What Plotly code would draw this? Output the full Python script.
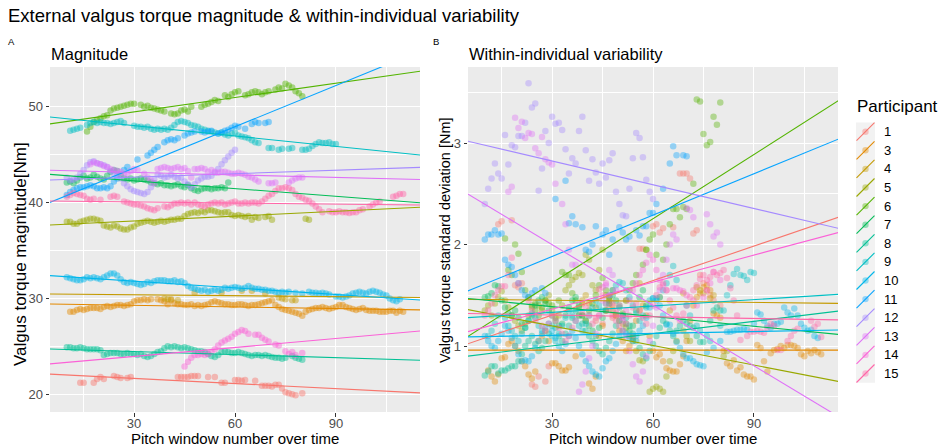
import math
import plotly.graph_objects as go

N = None

participants = ["1", "3", "4", "5", "6", "7", "8", "9", "10", "11", "12", "13", "14", "15"]

# first pitch window of each participant's series (windows step by 1)
first_window = [14, 11, 39, 10, 16, 10, 10, 11, 10, 10, 10, 17, 45, 10]

# ---- torque magnitude [Nm] per pitch window ----
mag_1 = [21.2, 21.2, N, N, 21.2, 21.6, 21.8, 21.6, N, N, 21.9, 21.8, 21.7, N, 21.7, 21.8,
         N, N, N, N, N, N, N, N, N, N, N, N, N,
         21.8, 21.8, 21.8, 21.8, 21.9, 21.9, 21.9, N, N, 21.8, N, 21.8, N, 21.2, 21.2, N, N,
         21.5, 21.5, 21.4, 21.5, N, N, 21.4, N, 20.9, 20.9, 20.9, 20.8, 21.0, 21.0, 20.6,
         20.2, 20.1, 20.0, 19.9, N, 20.1]
mag_3 = [28.6, 28.6, 28.8, 28.9, 28.8, 28.9, 29.0, 29.0, 29.0, 28.9,
         29.1, 29.2, 29.1, 29.2, 29.3, 29.3, 29.2, 29.3, 29.4, 29.7,
         29.8, 29.8, 29.9, 29.8, 29.9, N, 29.9, 29.8, 29.7, 29.4,
         29.8, 29.5, 29.4, 29.4, 29.3, 29.3, 29.4, 29.2, 29.3, 29.2,
         29.3, 29.4, 29.6, 29.7, 29.6, 29.5, 29.4, 29.4, 29.3, 29.3,
         29.4, 29.4, 29.3, 29.2, 29.3, 29.3, 29.4, 29.5, 29.6, 29.7,
         29.8, 29.3, 29.1, 28.9, 28.8, 28.7, 28.6, 28.5, 28.4, 28.2,
         28.6, 28.8, 28.9, 29.0, 29.0, 29.1, 29.0, 28.9, 29.0, 29.1,
         29.3, 29.3, 29.1, 29.0, 28.9, 28.8, 28.9, 29.0, 28.8, 28.7,
         28.7, 28.7, 28.6, 28.6, 28.6, 28.7, 28.7, 28.5, 28.7, 28.6]
mag_4 = [30.0, 29.9, 29.9, N, 29.8, N, N, N, N, 30.6, N, N, N, N, N, N, N, 30.6, N, N,
         N, N, N, 30.8, N, N, 30.8, N, N, N, 30.5, N, N, N, 30.1, 30.0, 29.9, N, 29.8, 29.8]
mag_5 = [38.0, 38.0, 37.8, 37.8, 38.0, 38.1, 38.2, 38.3, 38.3, 38.2,
         38.1, 37.6, 37.5, 37.4, 37.6, 37.5, 37.3, 37.2, 37.2, 37.4,
         37.5, 37.8, 37.9, 38.0, 38.1, 38.0, 37.9, 38.0, 38.1, 38.0,
         38.1, 38.2, 38.2, 38.3, 38.3, 38.6, 38.8, 38.9, 39.0, 38.9,
         39.1, 39.0, 39.2, 39.2, 39.1, 39.0, 38.9, 39.0, 39.0, 38.7,
         38.6, 38.7, 38.6, 38.5, 38.6, 38.2, 38.5, 38.4, N, 38.5,
         38.6, 38.2, N, N, N, N, N, N, N, N, N, 38.3, 38.2]
mag_6 = [47.4, 47.9, 48.4, 48.6, 48.8, 49.0, 49.1, 49.6, 49.8, 49.9,
         50.0, 50.1, 50.2, 50.3, 50.3, N, 50.2, 50.0, 50.1, 49.9,
         49.8, 49.7, 49.6, 49.5, N, 49.3, 49.2, 49.3, 49.6, 49.7,
         49.5, 50.0, N, N, 50.0, 50.2, 50.3, 50.5, 50.7, 50.6,
         N, 51.2, 51.0, 51.3, 51.5, 51.6, N, 51.2, 51.3, 51.5,
         51.6, 51.5, 51.3, 51.5, 51.6, N, 51.8, 52.0, 51.9, 52.4,
         52.2, 52.0, 51.6, 51.4, 51.1]
mag_7 = [42.1, 42.2, 42.0, 42.3, 42.6, 42.8, 42.5, 42.6, 42.9,
         42.7, 42.5, 42.4, 42.8, 43.2, 43.4, 43.3, 42.9, 42.5, 42.4,
         42.5, 42.3, 42.4, 42.5, 42.4, 42.3, 42.1, 42.0, 41.9, 42.0,
         41.8, 41.8, 41.7, 41.8, 41.9, 41.7, 41.6, 41.8, 41.5, 41.3,
         41.2, 41.4, 41.5, 41.5, 41.4, 41.5, 41.5, 41.6, 41.5, 42.1]
mag_8 = [24.9, 24.9, 24.8, 24.8, 24.9, 24.8, 24.7, 24.7,
         24.7, 24.7, 24.6, 24.1, 24.2, 24.3, 24.3, 24.3, 24.2, 24.2,
         24.3, 24.2, 24.2, 24.1, 24.2, 24.0, 23.9, 24.0, 24.2, 24.4,
         24.5, 24.8, 25.0, 24.9, 25.0, 24.9, 24.8, 24.9, 24.8, 24.7,
         24.6, 24.5, 24.5, 24.4, 24.2, 24.0, 23.9, 24.1, 24.4, 24.5,
         24.4, 24.3, 24.3, 24.4, 24.3, 24.2, 24.1, 24.0, 24.1, 24.1,
         24.0, 24.1, 24.0, 23.9, 23.8, 23.8, 23.7, 23.8, N, 24.0,
         23.8, 23.7, 23.6]
mag_9 = [47.5, 47.6, 47.7, 47.8, N, 48.1, 48.3, 48.4, 48.3, 48.4,
         48.3, 48.3, 48.2, 48.3, 48.4, 48.5, 48.3, N, N, 48.0,
         47.9, 47.9, 47.8, 47.9, 47.7, 47.6, 47.7, 47.6, 47.7, 47.6,
         47.8, 48.1, 48.4, 48.5, 48.4, 48.3, 48.1, 48.0, 47.9, 47.7,
         47.6, 47.5, 47.4, 47.3, 47.2, 47.3, 47.1, 47.0, 47.2, 47.3,
         47.0, 46.9, 46.8, 46.7, 46.5, 46.3, 46.2, N, N, 45.7,
         45.7, N, 45.5, 45.6, N, 45.6, 45.7, N, N, 45.5,
         45.5, 45.6, 45.9, 46.1, 46.3, 46.2, 46.2, 46.3, 46.1, 46.1]
mag_10 = [32.2, 32.1, 32.0, 31.9, 31.9, 32.0, 32.2, 32.1, 32.2, 32.1,
          32.0, 32.2, 32.4, 32.6, 32.6, 32.4, 32.0, 31.7, 31.6, 31.7,
          31.6, 31.5, 31.4, 31.5, 31.7, 31.6, 31.8, 31.9, 31.9, 31.9,
          31.8, 31.8, 31.9, 31.7, 31.8, 31.6, 31.3, 31.1, 31.0, 30.9,
          30.8, 30.9, 30.7, 30.8, 30.9, 30.8, 30.9, 31.1, 31.0, 31.1,
          31.2, 31.1, 31.0, 31.1, 31.3, 31.1, 31.0, 31.0, 30.9, 30.9,
          30.8, 30.8, 30.7, 30.6, 30.7, 30.6, 30.7, N, 30.6, N,
          30.5, N, 30.7, 30.6, 30.6, 30.5, 30.6, 30.5, 30.4, N,
          30.2, 30.2, 30.1, 30.2, 30.3, 30.5, 30.6, 30.7, 30.6, 30.5,
          30.7, 30.8, 30.7, 30.6, 30.4, 30.3, 30.0, 29.8, 29.7, 29.9]
mag_11 = [40.8, 41.1, 41.3, 41.5, 41.6, 41.6, 41.7, 41.8, 41.7,
          41.5, 41.5, 41.6, 41.5, 41.7, 42.2, 42.5, N, 43.4, 43.7,
          N, N, 44.5, N, N, 44.9, 45.2, 45.5, 45.8, N,
          46.3, 46.5, 46.6, 46.5, 46.7, N, 47.0, 47.2, 47.3, 47.4,
          N, 47.4, 47.3, 47.4, 47.5, N, 47.2, 47.3, 47.5, 47.6,
          47.8, 48.0, 47.9, N, 47.7, N, 48.2, 48.4, 48.3, N,
          48.3, 48.4]
mag_12 = [42.6, 42.3, 42.4, 42.6, 43.0, 43.4, 43.9, 44.2, 44.3,
          44.1, 44.0, 43.9, 43.7, 43.3, 43.0, 42.9, 42.5, 42.0, 41.7,
          41.4, 41.2, 41.1, 41.0, 40.9, 41.1, 41.6, 42.4, 42.9, 42.8,
          42.6, 42.7, 42.9, 42.7, 42.5, 42.6, 42.2, 41.9, 41.6, 41.9,
          42.3, 42.5, 42.7, 42.7, 42.8, 43.1, 43.5, 44.0, 44.4, 44.8,
          45.2, 45.5]
mag_13 = [44.0, 44.2, 44.1, 44.0, 43.8, 43.7, 43.5, 43.4, 43.3, 43.2,
          43.0, 43.0, 43.3, 43.5, 43.4, N, 43.0, 42.6, 42.3, 42.0,
          43.5, 43.6, 43.7, 43.6, 43.5, 43.6, 43.7, 43.5, 43.6, 43.3,
          42.6, 43.5, 43.5, 43.6, 43.5, 43.2, 43.4, 43.2, 43.1, 43.2,
          43.2, 43.1, 43.0, 43.0, 43.1, 43.0, 42.9, 42.7, 42.6, 42.4,
          42.2, N, N, 42.0, 42.0, 42.1, N, N, N, 42.1,
          42.3, 42.5, 42.6, 42.6]
mag_14 = [22.9, 23.4, 23.8, 24.1, 24.1, 24.2, 24.1, 24.2, 24.4, 24.7,
          25.1, 25.4, 25.6, 25.8, 26.0, 26.3, 26.5, 26.7, 26.6, 26.3,
          N, 26.2, 26.2, 25.9, 25.7, 25.5, N, 25.2, 25.1, N,
          24.5, 24.2, 24.4, 24.1, N, 24.3]
mag_15 = [40.6, 40.8, 41.0, 40.9, 40.8, 40.7, 40.4, 40.3, 40.4, N,
          40.3, N, N, 40.6, 40.7, 40.6, N, 40.1, 40.0, 39.9,
          39.8, 39.8, 39.7, 39.6, 39.4, 39.3, 39.2, 39.4, N, 39.6,
          39.5, 39.7, 39.9, 39.9, 40.0, 39.9, 40.0, 39.8, 40.0, 39.8,
          39.7, 39.6, 39.8, 39.9, 40.0, 39.9, 40.0, 39.8, 39.9, 40.0,
          40.1, 39.9, 39.9, 40.0, 39.9, 40.0, 40.0, 39.9, 40.1, 40.4,
          40.7, 40.9, 41.2, 41.5, 41.5, 41.6, 41.5, 41.3, 40.9, 40.6,
          40.5, 40.3, 40.2, 39.9, 39.6, 39.3, 39.0, N, 39.1, 39.0,
          39.0, 39.1, 39.0, 39.0, 38.9, 39.0, 39.0, 39.2, 39.3, N,
          39.6, 39.8, 40.0, 40.1, N, N, N, 40.6, 40.7, 40.9, 40.9]

# ---- within-individual standard deviation [Nm] per pitch window ----
sd_1 = [2.20, 2.23, N, N, 2.24, 1.60, 1.58, 1.62, N, N, 0.62, 0.60, 0.70, N, 0.65, 0.80,
        N, N, N, N, N, N, N, N, N, N, N, N, N,
        1.25, 1.30, 1.22, 1.35, 1.40, 1.28, 1.32, N, N, 1.45, N, 1.10, N, 1.96, 1.96, N, N,
        2.18, 2.20, 2.12, 2.16, N, N, 2.17, N, 2.70, 2.70, 2.70, 2.65, 2.11, 2.14, 1.70,
        1.62, 1.55, 1.50, 1.45, N, 1.40]
sd_3 = [0.76, 0.70, 0.65, 0.72, 0.88, 0.89, 1.02, 1.05, 1.00, 0.95,
        0.85, 0.80, 0.72, 0.68, 0.75, 1.05, 1.10, 1.15, 1.05, 0.83,
        0.83, 0.80, 0.76, 0.76, 0.79, N, 0.90, 1.30, 1.42, 1.25,
        0.63, 0.58, 0.70, 1.10, 1.20, 1.35, 1.45, 1.40, 1.30, 1.15,
        1.05, 0.95, 1.00, 1.08, 1.25, 1.35, 1.40, 1.30, 1.10, 0.95,
        0.89, 0.92, 0.85, 0.78, 0.76, 0.75, 0.75, 0.82, 0.90, 1.05,
        1.25, 1.40, 1.48, 1.52, 1.58, 1.60, 1.55, 1.32, 1.30, 1.28,
        0.95, 0.83, 0.80, 0.86, 0.76, 0.79, 0.72, 0.70, 0.70, 0.67,
        1.01, 0.98, 0.85, 0.75, 0.93, 0.96, 0.97, 1.00, 0.98, 1.01,
        1.01, 1.00, 0.98, 0.92, 0.90, 0.95, 0.93, 0.96, 0.94, 0.92]
sd_4 = [1.45, 1.50, 1.42, N, 1.38, N, N, N, N, 1.55, N, N, N, N, N, N, N, 1.62, N, N,
        N, N, N, 1.48, N, N, 1.35, N, N, N, 1.52, N, N, N, 1.58, 1.55, 1.52, N, 1.47, 1.50]
sd_5 = [1.35, 1.40, 1.30, 1.42, 1.48, 1.54, 1.45, 1.38, 1.30, 1.25,
        1.20, 1.15, 1.22, 1.30, 1.38, 1.42, 1.40, 1.35, 1.45, 1.50,
        1.35, 1.28, 1.30, 1.40, 1.55, 1.60, 1.65, 1.68, 1.72, 1.70,
        1.90, 1.85, 1.60, 1.55, 1.75, 1.95, 1.50, 1.45, 1.35, 1.30,
        1.25, 1.22, 1.18, 1.10, 1.05, 0.95, 0.86, 0.85, 1.95, 0.55,
        0.58, 0.60, 0.58, 0.55, 0.70, 0.85, 0.95, 1.05, N, 1.15,
        1.10, 1.05, N, N, N, N, N, N, N, N, N, 0.90, 0.95]
sd_6 = [2.06, 1.75, 1.70, 2.00, 1.91, 1.73, 1.55, 1.48, 1.40, 1.35,
        1.30, 1.38, 1.45, 1.42, 1.40, N, 1.45, 1.73, 1.70, 1.70,
        1.52, 1.45, 1.38, 1.30, N, 1.35, 1.42, 1.50, 1.60, 1.67,
        1.55, 1.48, N, N, 1.40, 1.32, 1.45, 1.55, 1.62, 1.70,
        N, 1.80, 1.95, 2.05, 2.10, 1.90, N, 1.85, 2.00, 2.20,
        2.35, 2.35, 2.27, 2.37, 2.35, N, 2.60, 3.43, 3.41, 3.09,
        2.98, 3.01, 3.26, 3.18, 3.40]
sd_7 = [1.48, 1.49, 1.52, 1.60, 1.59, 1.45, 1.38, 1.32, 1.30,
        1.35, 1.28, 1.22, 1.18, 1.25, 1.30, 1.40, 1.45, 1.48, 1.42,
        1.35, 1.30, 1.25, 1.20, 1.22, 1.30, 1.38, 1.45, 1.48, 1.40,
        1.30, 1.25, 1.20, 1.15, 1.10, 1.18, 1.28, 1.35, 1.42, 1.50,
        1.45, 1.38, 1.30, 1.22, 1.15, 1.20, 1.35, 1.48, 1.55, 1.40]
sd_8 = [0.71, 0.75, 0.80, 0.80, 0.73, 0.76, 0.76, 0.78,
        0.80, 0.80, 0.85, 0.92, 1.00, 1.05, 1.10, 1.02, 0.95, 0.98,
        1.05, 1.12, 1.20, 1.18, 1.10, 1.05, 1.12, 1.20, 1.28, 1.35,
        1.30, 1.22, 1.15, 1.10, 1.05, 1.00, 0.95, 0.92, 0.98, 1.05,
        1.12, 1.20, 1.25, 1.30, 1.28, 1.20, 1.12, 1.05, 0.98, 0.92,
        0.88, 0.95, 1.02, 1.10, 1.18, 1.25, 1.22, 1.15, 1.10, 1.15,
        1.20, 1.25, 1.22, 1.20, 1.18, 1.10, 1.04, 1.04, N, 1.25,
        1.35, 1.38, 1.35]
sd_9 = [1.10, 1.15, 1.22, 1.30, N, 1.28, 1.20, 1.15, 1.10, 1.05,
        1.12, 1.18, 1.25, 1.32, 1.28, 1.20, 1.15, N, N, 1.10,
        1.05, 1.12, 1.20, 1.28, 1.35, 1.30, 1.25, 1.20, 1.15, 1.22,
        1.30, 1.38, 1.45, 1.40, 1.35, 1.42, 1.50, 1.55, 1.60, 1.63,
        1.62, 1.55, 1.48, 1.40, 1.32, 1.25, 1.30, 1.38, 1.45, 1.47,
        1.47, 1.48, 1.55, 1.62, 1.70, 1.79, 1.65, N, N, 1.40,
        1.30, N, 1.20, 1.15, N, 1.10, 1.05, N, N, 1.20,
        1.35, 1.50, 1.60, 1.71, 1.76, 1.70, 1.69, 1.65, 1.73, 1.72]
sd_10 = [1.10, 1.05, 1.00, 0.98, 1.05, 1.12, 1.20, 1.15, 1.08, 1.00,
         0.92, 0.85, 0.86, 0.85, 0.90, 0.98, 1.05, 1.12, 1.18, 1.22,
         1.15, 1.08, 1.00, 0.95, 1.02, 1.10, 1.15, 1.08, 1.00, 0.92,
         0.85, 0.80, 0.75, 0.72, 0.70, 0.78, 0.85, 0.88, 0.95, 1.02,
         1.10, 1.15, 1.12, 1.08, 1.05, 1.10, 1.15, 1.20, 1.28, 1.38,
         1.47, 1.45, 1.40, 1.30, 1.21, 1.21, 1.12, 1.04, 0.98, 0.92,
         0.88, 0.88, 0.85, 0.82, 0.81, 0.80, 0.94, N, 0.98, N,
         1.05, N, 1.14, 1.14, 1.15, 1.16, 1.16, 1.17, 1.16, N,
         1.22, 1.33, 1.31, 1.25, 1.20, 1.18, 1.22, 1.22, 1.24, 1.38,
         1.33, 1.30, 1.37, 1.30, 1.22, 1.18, 1.15, 1.16, 1.10, 1.08]
sd_11 = [2.05, 2.10, 2.10, 2.14, 2.10, 2.11, 1.85, 1.80, 1.78,
         1.70, 1.62, 1.55, 1.50, 1.48, 1.52, 1.55, N, 1.57, 1.52,
         N, N, 2.45, N, N, 2.63, 2.21, 2.28, 2.20, N,
         2.17, 1.95, 1.93, 2.00, 2.18, N, 2.10, 2.14, 1.90, 2.05,
         N, 2.17, 2.12, 2.05, 2.08, N, 2.14, 2.09, 2.18, 2.18,
         2.31, 2.31, 2.40, N, 2.55, N, 2.80, 2.97, 2.88, N,
         2.88, 2.87]
sd_12 = [2.40, 2.55, 2.65, 2.80, 2.70, 2.65, 3.08, 2.79, 2.98,
         2.96, 3.07, 3.07, 3.20, 3.59, 3.35, 3.39, 2.53, 2.75, 3.12,
         3.00, 3.26, 3.19, 3.20, 3.13, 2.94, 2.70, 2.85, 2.80, 3.12,
         3.26, 2.93, 2.63, 2.84, 2.71, 2.60, 2.80, 2.66, 2.83, 2.90,
         2.52, 2.40, 2.29, 2.28, 2.55, 2.85, 3.10, 3.05, 2.86, 2.64,
         2.52, 2.45]
sd_13 = [2.52, 2.57, 3.25, 3.15, 3.21, 3.05, 3.10, 3.09, 2.95, 2.90,
         3.06, 2.84, 2.81, 2.79, 2.60, N, 2.40, 2.20, 1.95, 1.80,
         1.80, 0.55, 0.62, 0.75, 0.88, 1.00, 1.12, 1.30, 1.45, 1.60,
         1.75, 1.70, 1.55, 1.40, 1.25, 1.10, 0.95, 0.82, 0.70, 0.65,
         0.75, 0.90, 1.05, 1.20, 1.38, 1.55, 1.70, 1.85, 2.00, 2.10,
         2.05, N, N, 2.36, 2.34, 2.27, N, N, N, 2.30,
         2.20, 2.08, 2.12, 2.00]
sd_14 = [1.58, 1.62, 1.50, 1.42, 1.35, 1.30, 1.28, 1.35, 1.45, 1.55,
         1.62, 1.70, 1.75, 1.82, 1.90, 1.85, 1.75, 1.65, 1.60, 1.55,
         N, 1.57, 1.57, 1.55, 1.54, 1.50, N, 1.45, 1.40, N,
         1.48, 1.55, 1.62, 1.73, N, 1.65]
sd_15 = [1.30, 1.35, 1.42, 1.50, 1.55, 1.59, 1.59, 1.70, 1.87, N,
         1.62, N, N, 1.45, 1.35, 1.25, N, 1.20, 1.15, 1.22,
         1.30, 1.25, 1.18, 1.12, 1.05, 1.10, 1.18, 1.25, N, 1.32,
         1.38, 1.30, 1.22, 1.28, 1.56, 1.50, 1.42, 1.35, 1.30, 1.25,
         1.20, 1.15, 1.22, 1.30, 1.38, 1.42, 1.35, 1.28, 1.22, 1.30,
         1.40, 1.50, 1.58, 1.62, 1.55, 1.45, 1.38, 1.30, 1.25, 1.32,
         1.40, 1.48, 1.55, 1.60, 1.66, 1.70, 1.65, 1.68, 1.73, 1.70,
         1.72, 1.75, 1.67, 1.57, 1.45, 1.30, 1.06, N, 1.10, 1.14,
         1.14, 1.15, 1.14, 1.13, 1.18, 1.22, 1.20, 0.96, 0.96, N,
         1.05, 1.10, 1.15, 1.17, N, N, N, 1.25, 1.19, 1.22, 1.09]

# ---- fitted lines: value = intercept + slope * window ----
mag_intercept = [22.19, 29.45, 30.48, 37.57, 47.96, 43.07, 24.78, 49.10, 32.49, 39.30, 42.29, 43.41, 23.01, 40.18]
mag_slope = [-0.0178, -0.0056, -0.0033, 0.0168, 0.0499, -0.0269, -0.0107, -0.0360, -0.0231, 0.1434, 0.0120, -0.0088, 0.0312, -0.0038]
sd_intercept = [0.966, 0.960, 1.462, 1.391, 0.989, 1.485, 0.881, 1.270, 1.087, 1.475, 3.057, 2.596, 1.097, 1.323]
sd_slope = [0.01132, 0.0, -0.00036, -0.00643, 0.0211, -0.00322, 0.00403, 0.00208, 0.00062, 0.01359, -0.00779, -0.0199, 0.00888, -0.00057]

mag_series = [mag_1, mag_3, mag_4, mag_5, mag_6, mag_7, mag_8, mag_9, mag_10, mag_11, mag_12, mag_13, mag_14, mag_15]
sd_series = [sd_1, sd_3, sd_4, sd_5, sd_6, sd_7, sd_8, sd_9, sd_10, sd_11, sd_12, sd_13, sd_14, sd_15]

x_ticks = [30, 60, 90]
mag_ticks = [20, 30, 40, 50]
sd_ticks = [1, 2, 3]


def hcl_hex(h, c=100.0, l=65.0):
    """Polar CIE-LUV (D65) to sRGB hex, as used by the default discrete hue scale."""
    hr = math.radians(h)
    u_, v_ = c * math.cos(hr), c * math.sin(hr)
    Y = ((l + 16.0) / 116.0) ** 3 if l > 8 else l / 903.3
    xn, yn, zn = 95.047, 100.0, 108.883
    d = xn + 15 * yn + 3 * zn
    un, vn = 4 * xn / d, 9 * yn / d
    u = u_ / (13 * l) + un
    v = v_ / (13 * l) + vn
    X = 9.0 * Y * u / (4 * v)
    Z = -X / 3 - 5 * Y + 3 * Y / v
    rgb = [3.240479 * X - 1.537150 * Y - 0.498535 * Z,
           -0.969256 * X + 1.875992 * Y + 0.041556 * Z,
           0.055648 * X - 0.204043 * Y + 1.057311 * Z]
    out = []
    for ch in rgb:
        ch = 1.055 * ch ** (1 / 2.4) - 0.055 if ch > 0.0031308 else 12.92 * ch
        out.append(int(round(255 * min(1.0, max(0.0, ch)))))
    return "#%02X%02X%02X" % tuple(out)


n = len(participants)
colors = [hcl_hex(15 + 360.0 * k / n) for k in range(n)]

FONT = "Liberation Sans, Arial, sans-serif"
W, H = 944, 447


def fx(px):
    return px / W


def fy(py):
    return 1 - py / H


X_RANGE = [5, 115]
fig = go.Figure()

# points first, then the fitted lines on top
for i in range(n):
    for series, xa, ya, op in ((mag_series[i], "x", "y", 0.45), (sd_series[i], "x2", "y2", 0.38)):
        xs = list(range(first_window[i], first_window[i] + len(series)))
        fig.add_trace(go.Scatter(
            x=xs, y=series, mode="markers", xaxis=xa, yaxis=ya,
            marker=dict(color=colors[i], size=6.5, opacity=op, line=dict(width=0)),
            showlegend=False, hoverinfo="skip"))

for i in range(n):
    for icpt, slp, xa, ya in ((mag_intercept[i], mag_slope[i], "x", "y"),
                              (sd_intercept[i], sd_slope[i], "x2", "y2")):
        xs = [X_RANGE[0] - 5, X_RANGE[1] + 5]
        fig.add_trace(go.Scatter(
            x=xs, y=[icpt + slp * xv for xv in xs], mode="lines", xaxis=xa, yaxis=ya,
            line=dict(color=colors[i], width=1.1), showlegend=False, hoverinfo="skip"))

axis_common = dict(
    showline=False, zeroline=False, ticks="outside", ticklen=3.5, tickwidth=1.1,
    tickcolor="#333333", gridcolor="white", gridwidth=1.1,
    tickfont=dict(family=FONT, size=13, color="#4D4D4D"), fixedrange=True,
)
minor_common = dict(showgrid=True, gridcolor="white", gridwidth=0.55, ticks="")

fig.update_layout(
    width=W, height=H, margin=dict(l=0, r=0, t=0, b=0),
    paper_bgcolor="white", plot_bgcolor="#EBEBEB", showlegend=False,
    xaxis=dict(domain=[fx(50), fx(420)], range=X_RANGE, tickvals=x_ticks, anchor="y",
               ticklabelstandoff=-4,
               minor=dict(tickvals=[15, 45, 75, 105], **minor_common), **axis_common),
    yaxis=dict(domain=[fy(412), fy(67)], range=[18.15, 54.14], tickvals=mag_ticks, anchor="x",
               minor=dict(tickvals=[25, 35, 45], **minor_common), **axis_common),
    xaxis2=dict(domain=[fx(468), fx(838)], range=X_RANGE, tickvals=x_ticks, anchor="y2",
                ticklabelstandoff=-4,
                minor=dict(tickvals=[15, 45, 75, 105], **minor_common), **axis_common),
    yaxis2=dict(domain=[fy(412), fy(67)], range=[0.35, 3.75], tickvals=sd_ticks, anchor="x2",
                minor=dict(tickvals=[0.5, 1.5, 2.5, 3.5], **minor_common), **axis_common),
)

ann = []


def text(px, py, s, size, color="black", xanchor="left", angle=0):
    ann.append(dict(x=fx(px), y=fy(py), xref="paper", yref="paper", text=s, showarrow=False,
                    xanchor=xanchor, yanchor="middle", textangle=angle,
                    font=dict(family=FONT, size=size, color=color)))


text(6, 15.5, "External valgus torque magnitude & within-individual variability", 18.5)
text(6, 42, "A", 9.5)
text(431, 42, "B", 9.5)
text(49, 54, "Magnitude", 16.5)
text(467, 54, "Within-individual variability", 16.5)
text(235, 438.6, "Pitch window number over time", 15, xanchor="center")
text(653, 438.6, "Pitch window number over time", 15, xanchor="center")
text(20, 254, "Valgus torque magnitude[Nm]", 17, xanchor="center", angle=-90)
text(445, 240, "Valgus torque standard deviation [Nm]", 14.5, xanchor="center", angle=-90)

# legend drawn by hand so the keys carry the diagonal line glyph
shapes = []
key_x0, key_x1 = 856, 875
row0, row_h = 131.7, 18.6
shapes.append(dict(type="rect", xref="paper", yref="paper",
                   x0=fx(key_x0), x1=fx(key_x1),
                   y0=fy(row0 - row_h / 2), y1=fy(row0 + row_h * (n - 0.5)),
                   fillcolor="#F2F2F2", line=dict(width=0), layer="below"))
text(855, 106, "Participant", 17)
for i, p in enumerate(participants):
    cy = row0 + row_h * i
    shapes.append(dict(type="line", xref="paper", yref="paper",
                       x0=fx(key_x0 + 0.5), y0=fy(cy + row_h / 2 - 0.3),
                       x1=fx(key_x1 - 0.5), y1=fy(cy - row_h / 2 + 0.3),
                       line=dict(color=colors[i], width=1.1)))
    cx = (key_x0 + key_x1) / 2
    shapes.append(dict(type="circle", xref="paper", yref="paper",
                       x0=fx(cx - 3.2), x1=fx(cx + 3.2), y0=fy(cy + 3.2), y1=fy(cy - 3.2),
                       fillcolor=colors[i], opacity=0.4, line=dict(width=0)))
    text(882, cy, p, 13)

fig.update_layout(annotations=ann, shapes=shapes)
fig.write_html("out.html")
